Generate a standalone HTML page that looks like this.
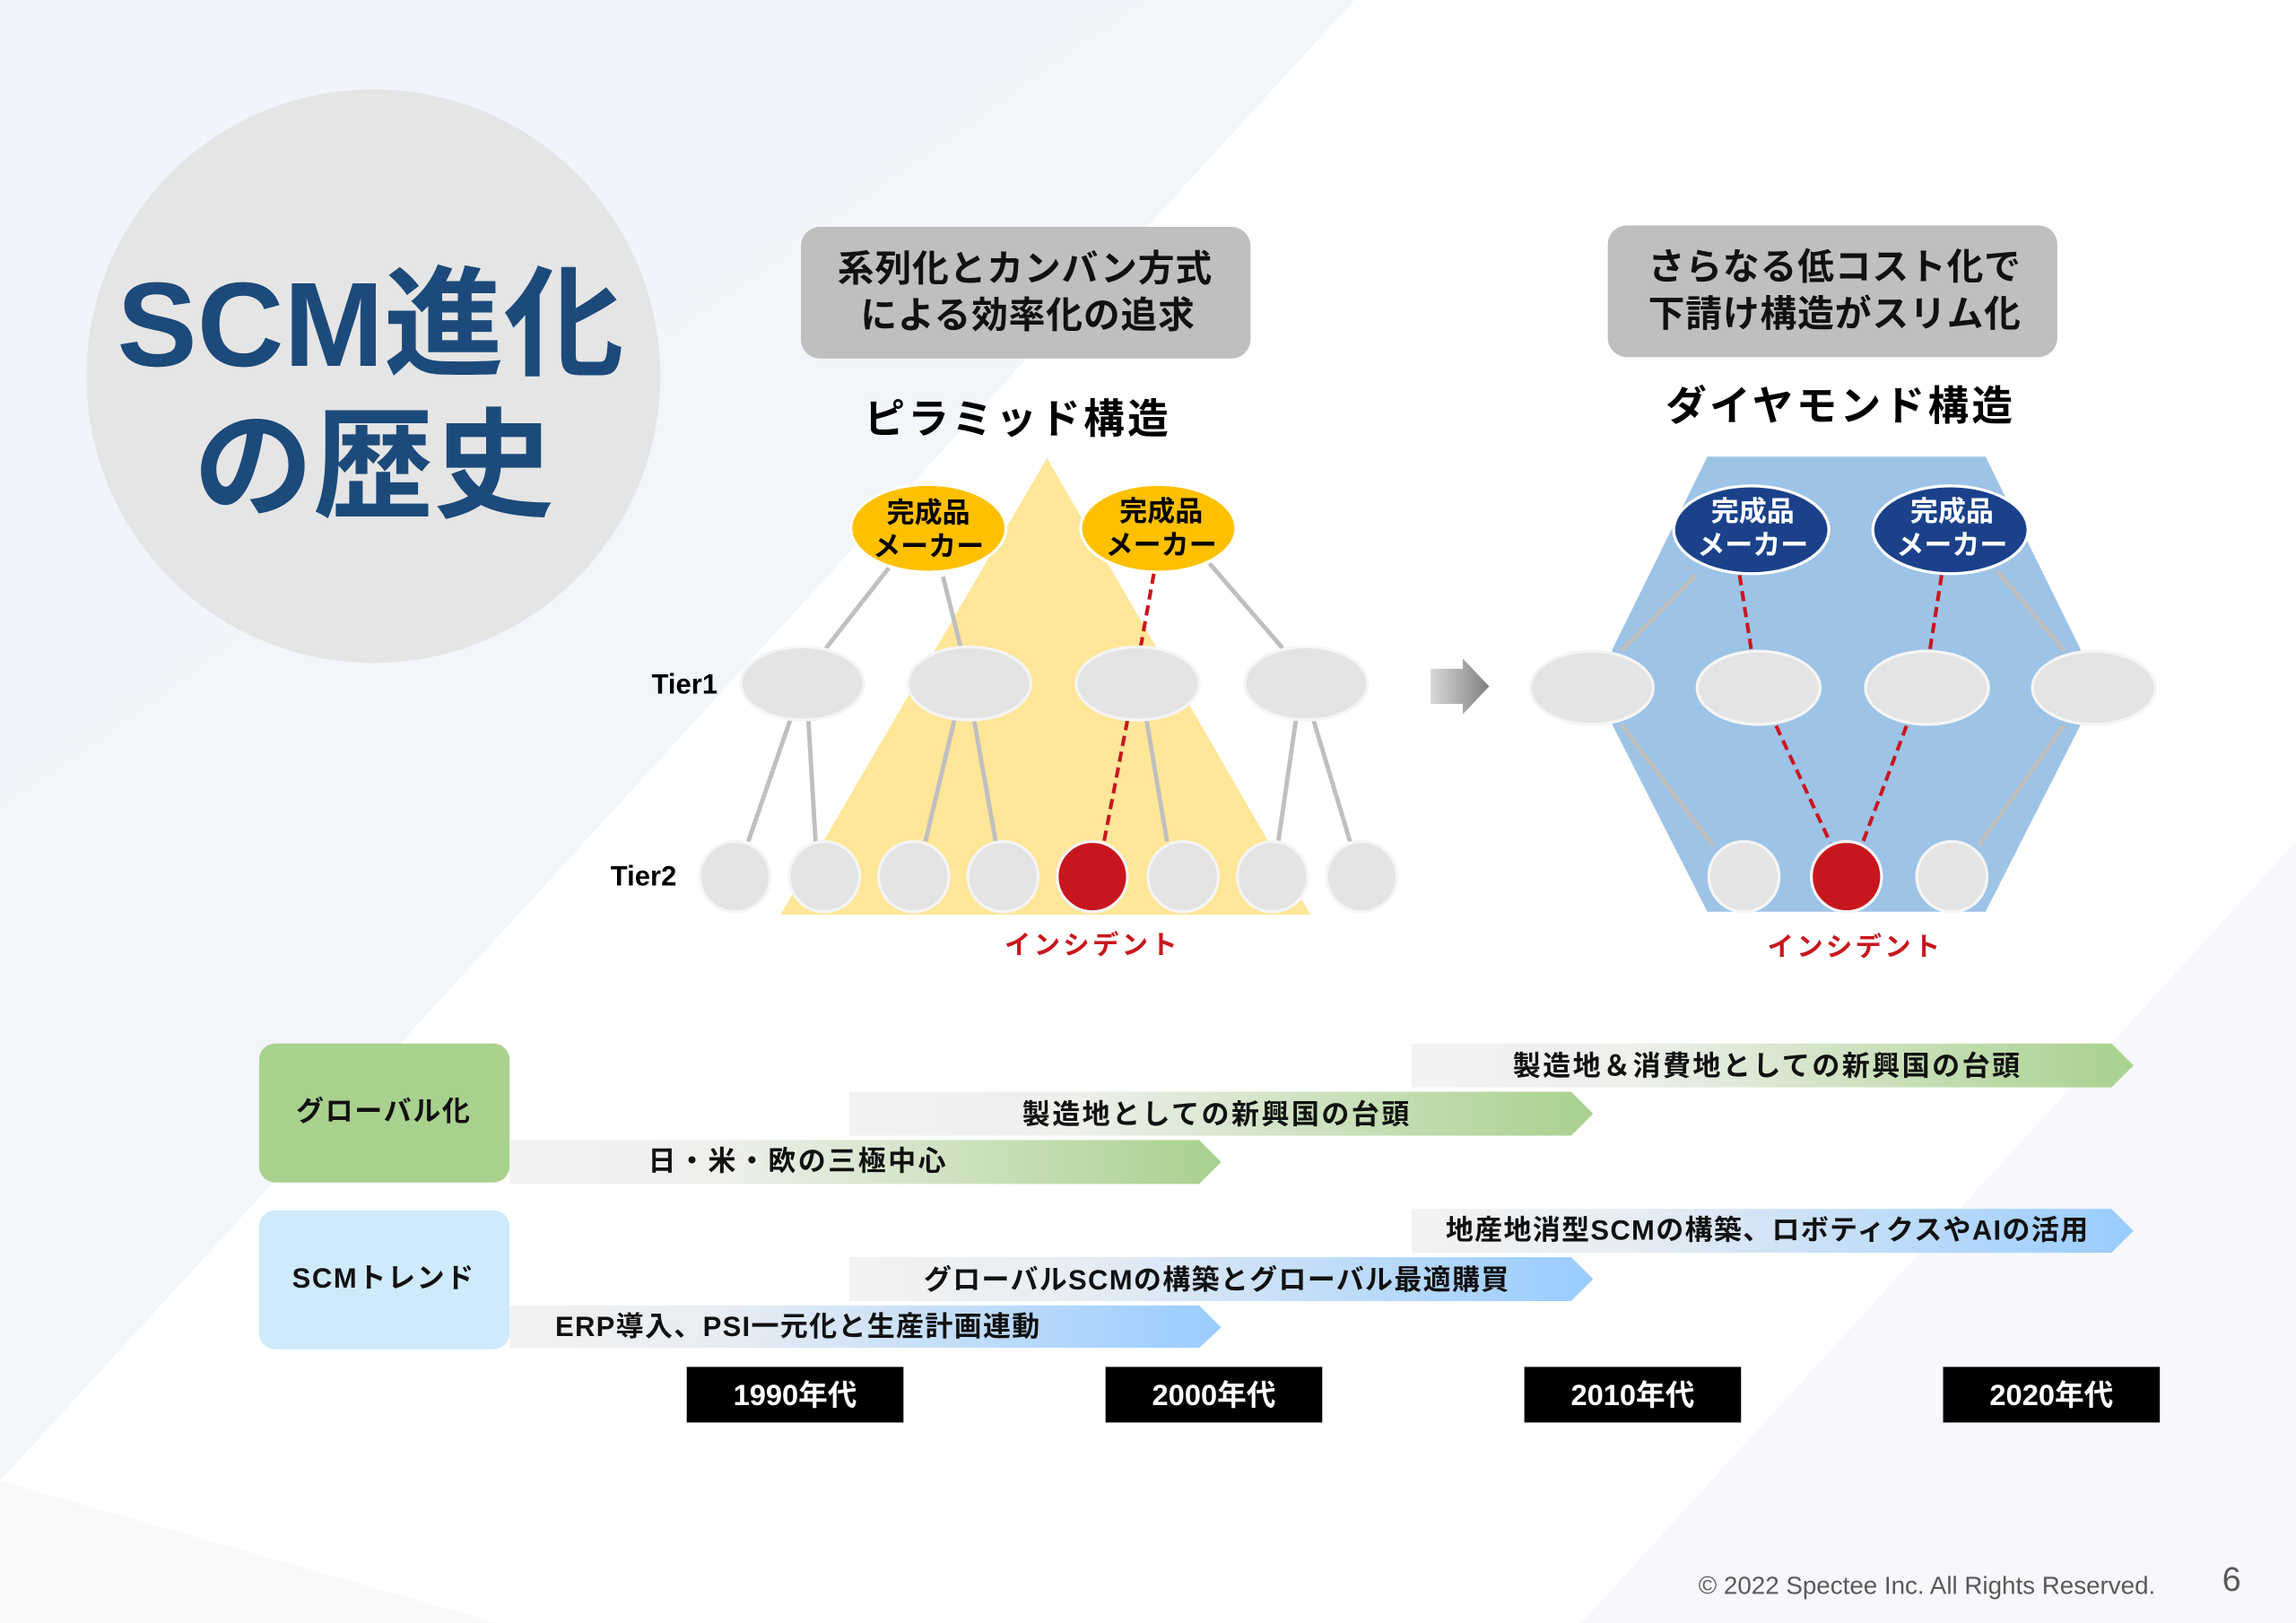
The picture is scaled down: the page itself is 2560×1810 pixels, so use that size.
<!DOCTYPE html>
<html><head><meta charset="utf-8"><style>
html,body{margin:0;padding:0;background:#fff}
svg{display:block}
text{font-family:"Liberation Sans","Noto Sans CJK JP",sans-serif}
</style></head><body>
<svg width="2560" height="1810" viewBox="0 0 1568 1109" preserveAspectRatio="none" xmlns="http://www.w3.org/2000/svg">
<defs>
<linearGradient id="bg" x1="0" y1="0" x2="1" y2="1"><stop offset="0" stop-color="#f0f4fb"/><stop offset="1" stop-color="#f6f7f9"/></linearGradient>
<linearGradient id="gg" x1="0" y1="0" x2="1" y2="0"><stop offset="0" stop-color="#f2f2f2"/><stop offset="0.3" stop-color="#eef0ec"/><stop offset="1" stop-color="#a9d18e"/></linearGradient>
<linearGradient id="bl" x1="0" y1="0" x2="1" y2="0"><stop offset="0" stop-color="#f2f2f2"/><stop offset="0.3" stop-color="#e8edf3"/><stop offset="1" stop-color="#99ccff"/></linearGradient>
<linearGradient id="ar" x1="0" y1="0" x2="1" y2="0"><stop offset="0" stop-color="#d9d9d9"/><stop offset="1" stop-color="#7f7f7f"/></linearGradient>
</defs>
<rect width="1568" height="1109" fill="url(#bg)"/>
<polygon points="925,0 1568,0 1568,575 1080,1109 0,1109 0,1012" fill="#ffffff"/>
<polygon points="1568,575 1568,1109 1080,1109" fill="#f6f8fb"/>
<polygon points="0,1012 0,1109 340,1109" fill="#f8f9fb"/>

<circle cx="255" cy="257" r="196" fill="#e5e5e5"/>
<text x="253" y="250" font-size="82" font-weight="bold" fill="#1c4a7a" text-anchor="middle">SCM進化</text>
<text x="255" y="347" font-size="82" font-weight="bold" fill="#1c4a7a" text-anchor="middle">の歴史</text>

<rect x="547" y="155" width="307" height="90" rx="13" fill="#bfbfbf"/>
<text x="700" y="192" font-size="25" font-weight="bold" text-anchor="middle" fill="#111" letter-spacing="0.5">系列化とカンバン方式</text>
<text x="702" y="224" font-size="25" font-weight="bold" text-anchor="middle" fill="#111" letter-spacing="0.5">による効率化の追求</text>
<text x="695" y="296" font-size="28" font-weight="bold" text-anchor="middle" fill="#000" letter-spacing="2">ピラミッド構造</text>

<polygon points="715,313 533,625 895,625" fill="#ffe699"/>
<g stroke="#bfbfbf" stroke-width="3">
<line x1="607" y1="388" x2="564" y2="443"/><line x1="644" y1="394" x2="656" y2="442"/><line x1="826" y1="385" x2="876" y2="443"/>
<line x1="540" y1="491" x2="511" y2="575"/><line x1="552" y1="491" x2="557" y2="575"/><line x1="652" y1="491" x2="632" y2="575"/><line x1="665" y1="491" x2="680" y2="575"/><line x1="783" y1="492" x2="797" y2="575"/><line x1="885" y1="492" x2="873" y2="575"/><line x1="897" y1="492" x2="922" y2="575"/>
</g>
<g stroke="#c8161e" stroke-width="2.5" stroke-dasharray="7,4">
<line x1="788" y1="392" x2="779" y2="442"/><line x1="770" y1="492" x2="754" y2="575"/>
</g>
<g fill="#ffc000" stroke="#fff" stroke-width="2"><ellipse cx="634" cy="361" rx="53" ry="30"/><ellipse cx="791" cy="361" rx="53" ry="30"/></g>
<g font-size="19" font-weight="bold" text-anchor="middle" fill="#000">
<text x="634" y="357">完成品</text><text x="634" y="380">メーカー</text>
<text x="793" y="356">完成品</text><text x="793" y="379">メーカー</text></g>
<g fill="#e4e4e4" stroke="#f5f5f5" stroke-width="2">
<ellipse cx="548" cy="467" rx="42" ry="25"/><ellipse cx="662" cy="467" rx="42" ry="25"/><ellipse cx="777" cy="467" rx="42" ry="25"/><ellipse cx="892" cy="467" rx="42" ry="25"/>
<circle cx="502" cy="599" r="24"/><circle cx="563" cy="599" r="24"/><circle cx="624" cy="599" r="24"/><circle cx="685" cy="599" r="24"/><circle cx="808" cy="599" r="24"/><circle cx="869" cy="599" r="24"/><circle cx="930" cy="599" r="24"/>
</g>
<circle cx="746" cy="599" r="24" fill="#c8161e" stroke="#f5f5f5" stroke-width="2"/>
<text x="445" y="474" font-size="19" font-weight="bold" fill="#000">Tier1</text>
<text x="417" y="605" font-size="19" font-weight="bold" fill="#000">Tier2</text>
<text x="746" y="652" font-size="18" font-weight="bold" fill="#c8161e" text-anchor="middle" letter-spacing="2">インシデント</text>

<polygon points="977,457 999,457 999,450 1017,469 999,488 999,481 977,481" fill="url(#ar)"/>

<rect x="1098" y="154" width="307" height="90" rx="13" fill="#bfbfbf"/>
<text x="1253" y="191" font-size="25" font-weight="bold" text-anchor="middle" fill="#111" letter-spacing="0.5">さらなる低コスト化で</text>
<text x="1253" y="223" font-size="25" font-weight="bold" text-anchor="middle" fill="#111" letter-spacing="0.5">下請け構造がスリム化</text>
<text x="1257" y="287" font-size="28" font-weight="bold" text-anchor="middle" fill="#000" letter-spacing="2">ダイヤモンド構造</text>

<polygon points="1166,312 1356,312 1421,444 1421,495 1356,623 1166,623 1101,495 1101,444" fill="#9dc3e6"/>
<g stroke="#bfbfbf" stroke-width="3">
<line x1="1158" y1="393" x2="1107" y2="445"/><line x1="1364" y1="390" x2="1410" y2="445"/><line x1="1107" y1="495" x2="1170" y2="578"/><line x1="1410" y1="495" x2="1351" y2="578"/>
</g>
<g stroke="#c8161e" stroke-width="2.5" stroke-dasharray="7,4">
<line x1="1188" y1="393" x2="1196" y2="444"/><line x1="1326" y1="393" x2="1318" y2="444"/><line x1="1213" y1="496" x2="1250" y2="576"/><line x1="1302" y1="496" x2="1272" y2="576"/>
</g>
<g fill="#1b418b" stroke="#fff" stroke-width="2"><ellipse cx="1196" cy="362" rx="53" ry="30"/><ellipse cx="1332" cy="362" rx="53" ry="30"/></g>
<g font-size="19" font-weight="bold" text-anchor="middle" fill="#fff">
<text x="1197" y="356">完成品</text><text x="1197" y="379">メーカー</text>
<text x="1333" y="356">完成品</text><text x="1333" y="379">メーカー</text></g>
<g fill="#e4e4e4" stroke="#f5f5f5" stroke-width="2">
<ellipse cx="1087" cy="470" rx="42" ry="25"/><ellipse cx="1201" cy="470" rx="42" ry="25"/><ellipse cx="1316" cy="470" rx="42" ry="25"/><ellipse cx="1430" cy="470" rx="42" ry="25"/>
<circle cx="1191" cy="599" r="24"/><circle cx="1333" cy="599" r="24"/>
</g>
<circle cx="1261" cy="599" r="24" fill="#c8161e" stroke="#f5f5f5" stroke-width="2"/>
<text x="1267" y="653" font-size="18" font-weight="bold" fill="#c8161e" text-anchor="middle" letter-spacing="2">インシデント</text>

<rect x="177" y="713" width="171" height="95" rx="11" fill="#a9d18e"/>
<text x="262" y="766" font-size="19" font-weight="bold" text-anchor="middle" fill="#111" letter-spacing="1">グローバル化</text>
<rect x="177" y="827" width="171" height="95" rx="11" fill="#cfeafd"/>
<text x="262" y="880" font-size="19" font-weight="bold" text-anchor="middle" fill="#111" letter-spacing="1">SCMトレンド</text>

<polygon points="964,713 1442,713 1457,728 1442,743 964,743" fill="url(#gg)"/>
<polygon points="580,746 1073,746 1088,761 1073,776 580,776" fill="url(#gg)"/>
<polygon points="348,779 819,779 834,794 819,809 348,809" fill="url(#gg)"/>
<polygon points="964,826 1442,826 1457,841 1442,856 964,856" fill="url(#bl)"/>
<polygon points="580,859 1073,859 1088,874 1073,889 580,889" fill="url(#bl)"/>
<polygon points="348,892 819,892 834,907 819,921 348,921" fill="url(#bl)"/>
<g font-size="19" font-weight="bold" fill="#111" text-anchor="middle" letter-spacing="1.5">
<text x="1207" y="735">製造地＆消費地としての新興国の台頭</text>
<text x="831" y="768">製造地としての新興国の台頭</text>
<text x="545" y="800">日・米・欧の三極中心</text>
<text x="1207" y="847" letter-spacing="0.8">地産地消型SCMの構築、ロボティクスやAIの活用</text>
<text x="831" y="881" letter-spacing="0.8">グローバルSCMの構築とグローバル最適購買</text>
<text x="545" y="913" letter-spacing="0.8">ERP導入、PSI一元化と生産計画連動</text>
</g>
<g fill="#000"><rect x="469" y="934" width="148" height="38"/><rect x="755" y="934" width="148" height="38"/><rect x="1041" y="934" width="148" height="38"/><rect x="1327" y="934" width="148" height="38"/></g>
<g font-size="20" font-weight="bold" fill="#fff" text-anchor="middle">
<text x="543" y="960">1990年代</text><text x="829" y="960">2000年代</text><text x="1115" y="960">2010年代</text><text x="1401" y="960">2020年代</text></g>
<text x="1472" y="1089" font-size="17" fill="#595959" text-anchor="end">© 2022 Spectee Inc. All Rights Reserved.</text>
<text x="1524" y="1087" font-size="23" fill="#595959" text-anchor="middle">6</text>
</svg>
</body></html>
